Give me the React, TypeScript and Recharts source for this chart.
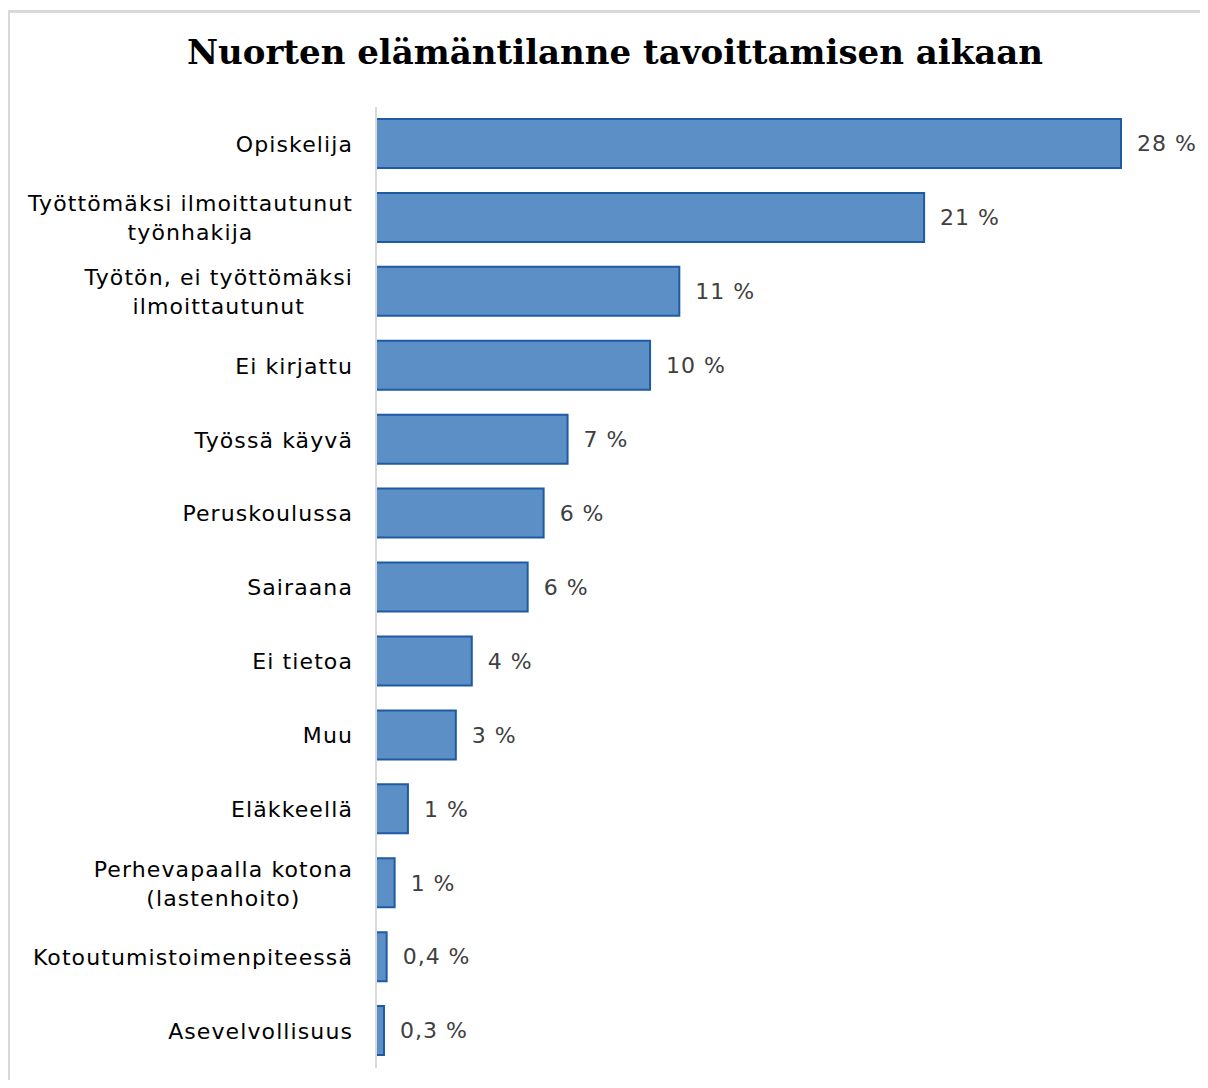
import React from "react";
import { Bar, BarChart, LabelList, XAxis, YAxis } from "recharts";

const categories = [
  "Opiskelija",
  "Työttömäksi ilmoittautunut\ntyönhakija",
  "Työtön, ei työttömäksi\nilmoittautunut",
  "Ei kirjattu",
  "Työssä käyvä",
  "Peruskoulussa",
  "Sairaana",
  "Ei tietoa",
  "Muu",
  "Eläkkeellä",
  "Perhevapaalla kotona\n(lastenhoito)",
  "Kotoutumistoimenpiteessä",
  "Asevelvollisuus",
];
const values = [28, 20.6, 11.4, 10.3, 7.2, 6.3, 5.7, 3.6, 3, 1.2, 0.7, 0.4, 0.3];
const valueLabels = ["28 %", "21 %", "11 %", "10 %", "7 %", "6 %", "6 %", "4 %", "3 %", "1 %", "1 %", "0,4 %", "0,3 %"];

const data = categories.map((name, i) => ({ name, value: values[i], label: valueLabels[i] }));

const FONT = "DejaVu Sans, Verdana, sans-serif";
const LS = 1.1;

let ctx: CanvasRenderingContext2D | null = null;
function measure(text: string) {
  if (!ctx) ctx = document.createElement("canvas").getContext("2d");
  if (!ctx) return text.length * 13;
  ctx.font = "22px DejaVu Sans";
  return ctx.measureText(text).width + text.length * LS;
}

function CategoryTick(props: any) {
  const { x, y, payload } = props;
  const lines: string[] = String(payload.value).split("\n");
  const maxW = Math.max(...lines.map(measure));
  const cx = x - 15 - maxW / 2;
  const lh = 29;
  const startY = y - ((lines.length - 1) * lh) / 2;
  return (
    <text textAnchor="middle" fontFamily={FONT} fontSize={22} fill="#000" letterSpacing={LS}>
      {lines.map((l, i) => (
        <tspan key={i} x={cx} y={startY + i * lh} dy="0.36em">
          {l}
        </tspan>
      ))}
    </text>
  );
}

export default function App() {
  return (
    <div style={{ position: "relative", width: 1192, height: 1072 }}>
      <div
        style={{
          position: "absolute",
          left: -1,
          top: 2,
          width: 1198,
          height: 1074,
          borderLeft: "3px solid #d9d9d9",
          borderTop: "3px solid #d9d9d9",
        }}
      />
      <div
        style={{
          position: "absolute",
          left: -8,
          top: 24,
          width: 1208,
          boxSizing: "border-box",
          paddingLeft: 22,
          textAlign: "center",
          fontFamily: "DejaVu Serif, serif",
          fontWeight: "bold",
          fontSize: 34,
          color: "#000",
        }}
      >
        Nuorten elämäntilanne tavoittamisen aikaan
      </div>
      <div style={{ position: "absolute", left: -8, top: -8 }}>
        <BarChart
          width={1208}
          height={1088}
          data={data}
          layout="vertical"
          margin={{ top: 107, right: 87, bottom: 20, left: 0 }}
        >
          <XAxis type="number" domain={[0, 28]} hide />
          <YAxis
            type="category"
            dataKey="name"
            width={376}
            axisLine={{ stroke: "#d9d9d9", strokeWidth: 2 }}
            tickLine={false}
            interval={0}
            tick={<CategoryTick />}
          />
          <Bar
            dataKey="value"
            barSize={49}
            fill="#5B8FC5"
            stroke="#1F5BA3"
            strokeWidth={2}
            isAnimationActive={false}
          >
            <LabelList
              dataKey="label"
              position="right"
              offset={16}
              fill="#404040"
              fontFamily={FONT}
              fontSize={22}
              letterSpacing={1}
            />
          </Bar>
        </BarChart>
      </div>
    </div>
  );
}
